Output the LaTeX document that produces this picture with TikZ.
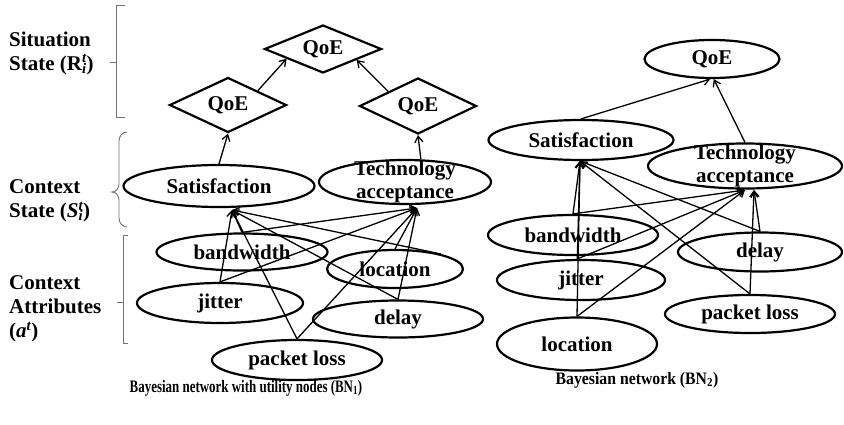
\documentclass[tikz,border=0pt]{standalone}
\usepackage{fontspec}
\setmainfont{Liberation Serif}
\usetikzlibrary{shapes.geometric,arrows.meta}
\begin{document}
\begin{tikzpicture}[x=1pt,y=-1pt,
  every node/.style={font=\bfseries},
  ell/.style={draw, ellipse, line width=2.2pt, inner sep=0pt},
  dia/.style={draw, diamond, line width=2.2pt, inner sep=0pt},
  txt/.style={font=\fontsize{21}{23}\selectfont\bfseries, align=center, inner sep=0pt},
  arr/.style={-{Straight Barb[length=6pt,width=8pt]}, line width=1.3pt},
  brk/.style={draw=black!55, line width=0.9pt},
  side/.style={anchor=west, align=left, inner sep=0pt, font=\fontsize{21}{24}\selectfont\bfseries},
  captext/.style={font=\fontsize{17.5}{20}\selectfont\bfseries}
]
\useasboundingbox (0,0) rectangle (844,424);

% ---------- layer labels and brackets ----------
\node[side] (lsit) at (9,53) {Situation\\State (R\rlap{\textsuperscript{\itshape t}}\textsubscript{\itshape i})};
\node[side] (lctx) at (9,201) {Context\\State (\textit{S}\rlap{\textsuperscript{\itshape t}}\textsubscript{\itshape i})};
\node[side] (latt) at (9,309) {Context\\Attributes\\(\textit{a}\textsuperscript{\itshape t})};

\draw[brk] (125,5) -- (116,5) -- (116,117) -- (125,117);
\draw[brk] (116,62) -- (110,62);
\draw[brk] (127,132) to[out=180,in=90] (119,141) -- (119,184)
  to[out=-90,in=0] (112,192) to[out=0,in=90] (119,200) -- (119,218)
  to[out=-90,in=180] (127,227);
\draw[brk] (128,235) -- (123,235) -- (123,343) -- (128,343);
\draw[brk] (123,302) -- (117,302);

% ---------- BN1: Bayesian network with utility nodes ----------
\node[dia, minimum width=117pt, minimum height=48pt, label={[txt]center:QoE}] (qtop) at (323,49) {};
\node[dia, minimum width=117pt, minimum height=55pt, label={[txt]center:QoE}] (qleft) at (228,105) {};
\node[dia, minimum width=117pt, minimum height=56pt, label={[txt]center:QoE}] (qright) at (418,106) {};

\node[ell, minimum width=191pt, minimum height=42pt, label={[txt]center:Satisfaction}] (sat1) at (219,186) {};
\node[ell, minimum width=172pt, minimum height=44pt, label={[txt]center:{Technology\\acceptance}}] (tech1) at (405,182) {};

\node[ell, minimum width=171pt, minimum height=37pt, label={[txt]center:bandwidth}] (bw1) at (242,252) {};
\node[ell, minimum width=136pt, minimum height=38pt, label={[txt]center:location}] (loc1) at (395,269) {};
\node[ell, minimum width=166pt, minimum height=40pt, label={[txt]center:jitter}] (jit1) at (220,303) {};
\node[ell, minimum width=170pt, minimum height=37pt, label={[txt]center:delay}] (del1) at (398,319) {};
\node[ell, minimum width=170pt, minimum height=40pt, label={[txt]center:packet loss}] (pl1) at (297,360) {};

\coordinate (s1in) at (232,210);
\coordinate (t1in) at (417,208);

\draw[arr] (qleft.north east) -- (qtop.-165);
\draw[arr] (qright.north west) -- (qtop.-18);
\draw[arr] (sat1.north) -- (qleft.south);
\draw[arr] (tech1.55) -- (qright.south);

\foreach \src in {bw1.north, jit1.north, loc1.18, del1.north, pl1.north}
  \draw[arr] (\src) -- (s1in);
\foreach \src in {bw1.north, jit1.north, loc1.north, del1.north, pl1.north}
  \draw[arr] (\src) -- (t1in);

\node[captext] (cap1) at (246,388) {\scalebox{0.74}[1]{Bayesian network with utility nodes (BN\textsubscript{1})}};

% ---------- BN2: Bayesian network ----------
\node[ell, minimum width=135pt, minimum height=38pt, label={[txt]center:QoE}] (qoe2) at (712,59) {};
\node[ell, minimum width=185pt, minimum height=40pt, label={[txt]center:Satisfaction}] (sat2) at (581,140) {};
\node[ell, minimum width=194pt, minimum height=45pt, label={[txt]center:{Technology\\acceptance}}] (tech2) at (745,166) {};

\node[ell, minimum width=170pt, minimum height=40pt, label={[txt]center:bandwidth}] (bw2) at (573,235) {};
\node[ell, minimum width=168pt, minimum height=40pt, label={[txt]center:jitter}] (jit2) at (581,280) {};
\node[ell, minimum width=160pt, minimum height=53pt, label={[txt]center:location}] (loc2) at (577,344) {};
\node[ell, minimum width=164pt, minimum height=39pt, label={[txt]center:delay}] (del2) at (760,252) {};
\node[ell, minimum width=170pt, minimum height=38pt, label={[txt]center:packet loss}] (pl2) at (750,314) {};

\coordinate (s2in) at (580,161);
\coordinate (t2in) at (745,190);
\coordinate (t2inb) at (754,190);

\draw[arr] (sat2.north) -- (qoe2.-95);
\draw[arr] (tech2.north) -- (qoe2.-85);

\foreach \src in {bw2.north, jit2.100, loc2.north, del2.north, pl2.north}
  \draw[arr] (\src) -- (s2in);
\foreach \src in {bw2.north, jit2.100, loc2.north}
  \draw[arr] (\src) -- (t2in);
\foreach \src in {del2.north, pl2.north}
  \draw[arr] (\src) -- (t2inb);

\node[captext] (cap2) at (637,380) {\scalebox{0.9}[1]{Bayesian network (BN\textsubscript{2})}};
\end{tikzpicture}
\end{document}
